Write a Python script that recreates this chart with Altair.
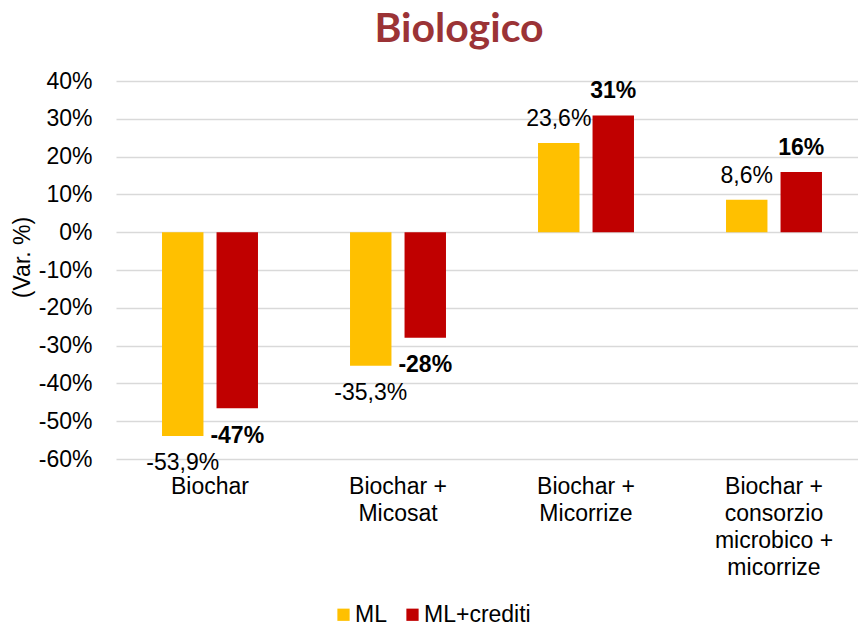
import altair as alt
import pandas as pd

categories = ["Biochar", "Biochar +|Micosat", "Biochar +|Micorrize", "Biochar +|consorzio|microbico +|micorrize"]
series = ["ML", "ML+crediti"]
ml_values = [-53.9, -35.3, 23.6, 8.6]
crediti_values = [-46.6, -27.9, 30.9, 15.9]
colors = ["#FFC000", "#C00000"]

rows = []
for c, a, b in zip(categories, ml_values, crediti_values):
    rows.append({"cat": c, "serie": series[0], "v": a})
    rows.append({"cat": c, "serie": series[1], "v": b})
df = pd.DataFrame(rows)

FONT = "Liberation Sans"
FS = 23
W, H = 742, 378

x_axis = alt.Axis(title=None, labelExpr="split(datum.label, '|')",
                  labelFont=FONT, labelFontSize=FS, labelColor="#000000",
                  labelLineHeight=27, labelBaseline="top", labelPadding=16,
                  labelAngle=0, ticks=False, domain=False, grid=False)
y_axis = alt.Axis(title="(Var. %)", values=list(range(-60, 50, 10)),
                  labelExpr="datum.value + '%'", labelOverlap=False,
                  labelFont=FONT, labelFontSize=FS, labelColor="#000000",
                  labelPadding=24, ticks=False, domain=False,
                  grid=True, gridColor="#d9d9d9", gridWidth=1.5,
                  titleFont=FONT, titleFontSize=23, titleFontWeight="normal",
                  titleColor="#000000", titleAngle=270, titleX=-94, titleY=176,
                  titleBaseline="middle", titleAlign="center")
# category bands continue past the right edge of the picture, as in the reference
x_scale = alt.Scale(paddingInner=0, paddingOuter=0, range=[0, 752])
xo_scale = alt.Scale(paddingInner=0.24, paddingOuter=0.844)
y_scale = alt.Scale(domain=[-60, 40], nice=False, zero=False)

bars = alt.Chart(df).mark_bar().encode(
    x=alt.X("cat:N", sort=categories, scale=x_scale, axis=x_axis),
    xOffset=alt.XOffset("serie:N", sort=series, scale=xo_scale),
    y=alt.Y("v:Q", scale=y_scale, axis=y_axis),
    color=alt.Color("serie:N", scale=alt.Scale(domain=series, range=colors),
                    legend=alt.Legend(title=None, orient="none", direction="horizontal",
                                      legendX=216, legendY=522, symbolType="square",
                                      symbolSize=150, symbolStrokeWidth=0,
                                      labelFont=FONT, labelFontSize=FS, labelColor="#000000",
                                      labelOffset=0, columnPadding=14)),
)

base_text = alt.Chart(df).transform_calculate(
    ly="datum.v >= 0 ? datum.v + 6.4 : datum.v - 7.2"
)

ml_text = base_text.transform_filter(alt.datum.serie == "ML").transform_calculate(
    lab="replace(toString(datum.v), '.', ',') + '%'"
).mark_text(font=FONT, fontSize=FS, color="#000000", baseline="middle").encode(
    x=alt.X("cat:N", sort=categories, scale=x_scale, axis=x_axis),
    xOffset=alt.XOffset("serie:N", sort=series, scale=xo_scale),
    y=alt.Y("ly:Q", scale=y_scale, axis=y_axis),
    text="lab:N",
)

cr_text = base_text.transform_filter(alt.datum.serie == "ML+crediti").transform_calculate(
    lab="toString(round(datum.v)) + '%'"
).mark_text(font=FONT, fontSize=FS, fontWeight="bold", color="#000000", baseline="middle").encode(
    x=alt.X("cat:N", sort=categories, scale=x_scale, axis=x_axis),
    xOffset=alt.XOffset("serie:N", sort=series, scale=xo_scale),
    y=alt.Y("ly:Q", scale=y_scale, axis=y_axis),
    text="lab:N",
)

chart = alt.layer(bars, ml_text, cr_text).properties(
    width=W, height=H,
    title=alt.TitleParams("Biologico", font="Lato", fontSize=41, fontWeight="bold",
                          color="#9B3336", anchor="middle", dx=-28, offset=19),
    autosize=alt.AutoSizeParams(type="none"),
    padding={"left": 108, "top": 73, "right": 0, "bottom": 167},
).configure_view(stroke=None)

chart.save("out.html", embed_options={"renderer": "svg", "actions": False})
